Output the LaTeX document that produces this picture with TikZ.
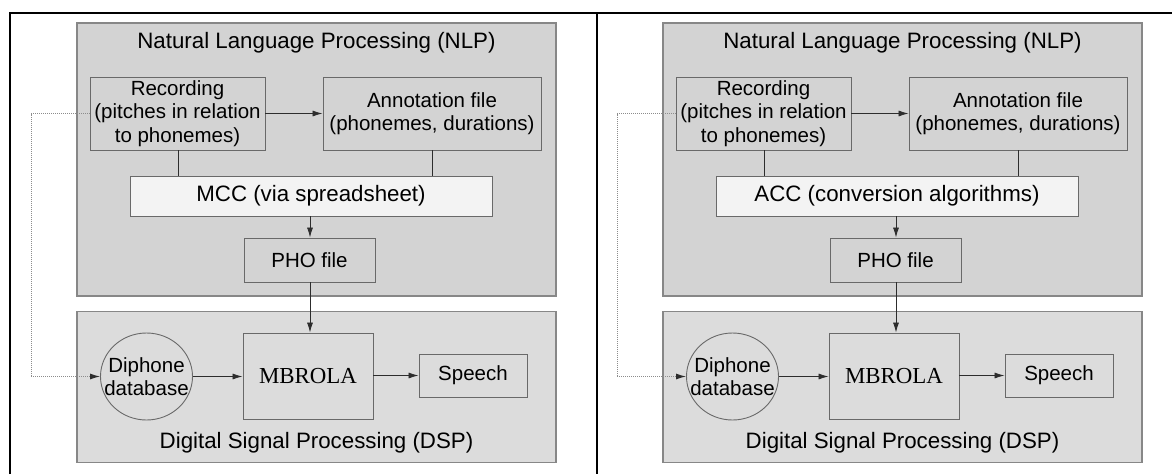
\documentclass[tikz,border=0pt]{standalone}
\usepackage{fontspec}
\setmainfont{Liberation Sans}
\newfontfamily\mbfont{Liberation Serif}
\usetikzlibrary{arrows.meta,shapes.geometric}

\definecolor{nlpfill}{RGB}{211,211,211}
\definecolor{dspfill}{RGB}{220,220,220}
\definecolor{convfill}{RGB}{243,243,243}
\definecolor{areaedge}{RGB}{135,135,135}
\definecolor{boxedge}{RGB}{105,105,105}
\definecolor{wire}{RGB}{45,45,45}
\definecolor{dotwire}{RGB}{140,140,140}

\tikzset{
  area/.style={draw=areaedge, line width=1.3pt, rectangle, inner sep=0pt},
  unit/.style={draw=boxedge, line width=0.9pt, rectangle, inner sep=0pt,
               align=center, font=\fontsize{20.5}{23.5}\selectfont},
  store/.style={ellipse, draw=boxedge, line width=0.9pt, inner xsep=-12pt, inner ysep=0pt,
               align=center, font=\fontsize{20.5}{23.5}\selectfont},
  title/.style={font=\fontsize{22.3}{26}\selectfont, inner sep=0pt},
  flow/.style={draw=wire, line width=0.8pt, -{Latex[length=10pt,width=6pt]}},
  link/.style={draw=wire, line width=0.8pt},
  feed/.style={draw=dotwire, line width=1pt, dash pattern=on 1pt off 1pt,
               -{Latex[length=10pt,width=6pt,fill=wire,color=wire]}},
  frame/.style={draw=black, line width=1.5pt}
}

\begin{document}
\begin{tikzpicture}[x=1pt, y=-1pt]
\useasboundingbox (0,0) rectangle (1172,474);

% outer frame with the divider between the two variants
\coordinate (ftl) at (10,13);
\coordinate (ftr) at (1172,13);
\coordinate (fbl) at (10,474);
\coordinate (ftm) at (597,13);
\coordinate (fbm) at (597,474);
\draw[frame] (fbl) -- (ftl) -- (ftr);
\draw[frame] (ftm) -- (fbm);

\foreach \p/\dx/\conv in {l/0/MCC (via spreadsheet), r/586/ACC (conversion algorithms)}{
  \begin{scope}[xshift=\dx pt]
    % processing areas
    \node[area, fill=nlpfill, minimum width=479pt, minimum height=273pt] (\p nlp) at (316.5,159.5) {};
    \node[area, fill=dspfill, minimum width=479pt, minimum height=151pt] (\p dsp) at (316.5,387) {};
    \node[title] (\p nlptitle) at (316.5,43) {Natural Language Processing (NLP)};
    \node[title] (\p dsptitle) at (316.5,443) {Digital Signal Processing (DSP)};

    % NLP stage
    \node[unit, fill=nlpfill, minimum width=175pt, minimum height=73pt] (\p rec) at (177.5,113.5)
      {Recording\\(pitches in relation\\to phonemes)};
    \node[unit, fill=nlpfill, minimum width=218pt, minimum height=73pt] (\p ann) at (432,113.5)
      {Annotation file\\(phonemes, durations)};
    \node[unit, fill=convfill, minimum width=362pt, minimum height=40pt,
          font=\fontsize{22.3}{26}\selectfont] (\p conv) at (311,196) {\conv};
    \node[unit, fill=nlpfill, minimum width=131pt, minimum height=44pt] (\p pho) at (309.5,260) {PHO file};

    % DSP stage
    \node[store, fill=dspfill, minimum width=92pt, minimum height=87pt] (\p dip) at (146.5,376.5)
      {Diphone\\database};
    \node[unit, fill=dspfill, minimum width=130pt, minimum height=86pt,
          font=\fontsize{22.9}{26}\mbfont] (\p mbr) at (308,376) {MBROLA};
    \node[unit, fill=dspfill, minimum width=108pt, minimum height=43pt] (\p spe) at (473,375.5) {Speech};

    % connectors
    \draw[flow] (\p rec.east) -- (\p ann.west);
    \draw[link] (\p rec.south -| 178,0) -- (\p conv.north -| 178,0);
    \draw[link] (\p ann.south) -- (\p ann.south |- \p conv.north);
    \draw[flow] (\p conv.south -| 310,0) -- (\p pho.north -| 310,0);
    \draw[flow] (\p pho.south -| 310,0) -- (\p mbr.north -| 310,0);
    \draw[flow] (\p dip.east) -- (\p mbr.west |- \p dip.east);
    \draw[flow] (\p mbr.east |- \p spe.west) -- (\p spe.west);
    \coordinate (\p bendA) at (31,113.5);
    \coordinate (\p bendB) at (31,376.5);
    \draw[feed] (\p rec.west) -- (\p bendA) -- (\p bendB) -- (\p dip.west);
  \end{scope}
}
\end{tikzpicture}
\end{document}
